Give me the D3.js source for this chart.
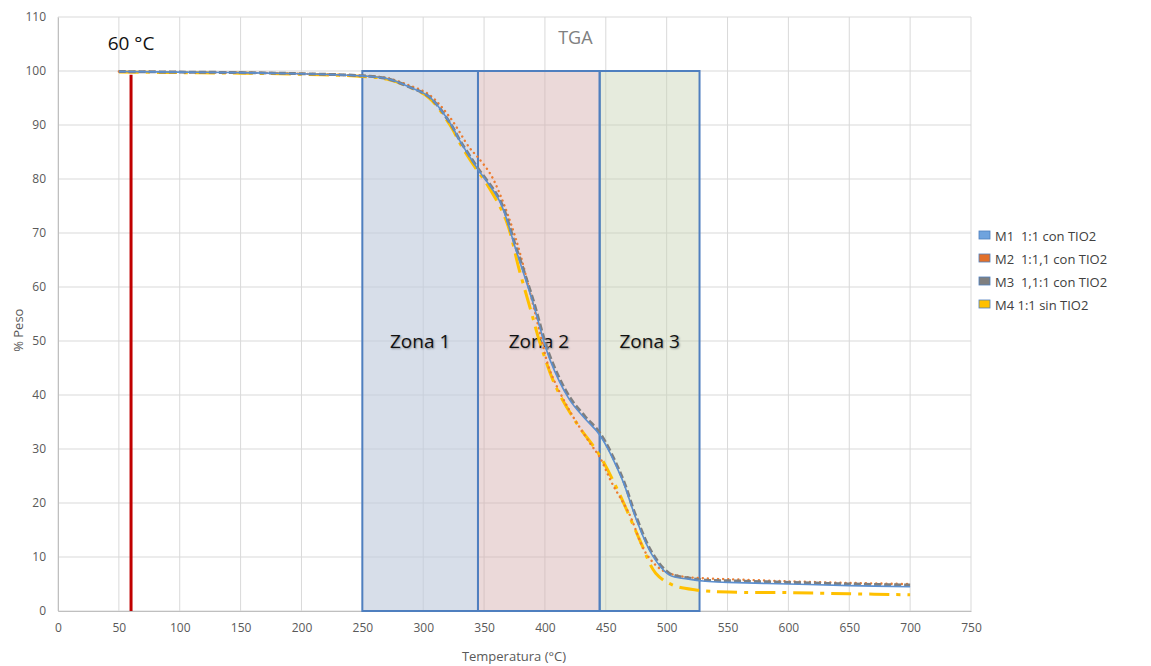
<!DOCTYPE html>
<html>
<head>
<meta charset="utf-8">
<script src="https://cdn.jsdelivr.net/npm/d3@7"></script>
<style>
  body { margin: 0; background: #fff; }
  svg text { font-family: "Open Sans", "Noto Sans", sans-serif; }
  .zona { text-shadow: 1px 1px 2px rgba(0,0,0,0.35); }
  .legend-text { white-space: pre; }
</style>
</head>
<body>
<svg id="chart" width="1151" height="666"></svg>
<script>
// ---- data ----
const xTicks = [0, 50, 100, 150, 200, 250, 300, 350, 400, 450, 500, 550, 600, 650, 700, 750];
const yTicks = [0, 10, 20, 30, 40, 50, 60, 70, 80, 90, 100, 110];

const tempM1 = [50, 100, 150, 200, 250, 270, 289, 305, 322, 330, 344, 363, 376, 390, 404, 420, 433, 445, 463, 475, 488, 502, 518, 532, 550, 600, 650, 700];
const pesoM1 = [99.9, 99.8, 99.7, 99.5, 99.1, 98.6, 97.0, 95.2, 90.4, 87.1, 82.1, 75.8, 67.0, 57.2, 46.6, 39.2, 35.6, 32.6, 24.6, 17.0, 10.4, 6.7, 5.9, 5.5, 5.3, 5.0, 4.7, 4.5];

const tempM2 = [50, 100, 150, 200, 250, 270, 289, 305, 322, 338, 345, 355, 363, 376, 390, 397, 404, 420, 437, 445, 455, 469, 483, 496, 510, 527, 550, 600, 650, 700];
const pesoM2 = [99.9, 99.8, 99.7, 99.5, 99.1, 98.7, 97.3, 95.6, 91.4, 85.8, 84.0, 81.0, 77.2, 69.0, 57.0, 50.5, 44.6, 37.2, 31.1, 28.5, 23.7, 18.1, 10.7, 7.6, 6.5, 6.1, 5.9, 5.5, 5.2, 5.0];

const tempM3 = [50, 100, 150, 200, 250, 270, 289, 305, 322, 330, 344, 363, 376, 390, 404, 420, 433, 445, 463, 475, 488, 502, 518, 532, 550, 600, 650, 700];
const pesoM3 = [99.9, 99.8, 99.7, 99.5, 99.1, 98.6, 97.0, 95.2, 90.4, 87.2, 82.3, 76.1, 67.5, 57.8, 47.2, 39.7, 36.0, 33.0, 25.0, 17.4, 10.8, 7.0, 6.1, 5.7, 5.6, 5.3, 5.0, 4.8];

const tempM4 = [50, 100, 150, 200, 250, 270, 289, 305, 322, 332, 345, 352, 368, 379, 389, 396, 409, 426, 445, 461, 478, 491, 505, 524, 551, 600, 650, 700];
const pesoM4 = [99.8, 99.7, 99.6, 99.4, 99.0, 98.5, 97.0, 95.0, 90.0, 85.9, 81.4, 79.2, 72.4, 63.1, 55.2, 49.6, 41.5, 34.8, 28.8, 21.8, 13.1, 7.0, 4.8, 3.9, 3.5, 3.4, 3.2, 3.0];

const seriesNames = ["M1  1:1 con TIO2", "M2  1:1,1 con TIO2", "M3  1,1:1 con TIO2", "M4 1:1 sin TIO2"];

const zoneNames = ["Zona 1", "Zona 2", "Zona 3"];
const zoneStart = [250, 345, 445];
const zoneEnd = [345, 445, 527];
const zoneTop = 100;

const markTemp = 60;
const markPeso = 99.3;

// ---- layout ----
const svg = d3.select('#chart');
const margin = { top: 17, left: 58, right: 180, bottom: 55 };
const width = +svg.attr('width');
const height = +svg.attr('height');
const innerWidth = width - margin.left - margin.right;
const innerHeight = height - margin.top - margin.bottom;

const xScale = d3.scaleLinear().domain([0, 750]).range([0, innerWidth]);
const yScale = d3.scaleLinear().domain([0, 110]).range([innerHeight, 0]);

const g = svg.append('g')
  .attr('transform', `translate(${margin.left}, ${margin.top})`);

// grid
g.append('g').selectAll('line').data(yTicks).enter().append('line')
  .attr('x1', 0).attr('x2', innerWidth)
  .attr('y1', d => yScale(d)).attr('y2', d => yScale(d))
  .attr('stroke', '#d9d9d9').attr('stroke-width', 1);
g.append('g').selectAll('line').data(xTicks).enter().append('line')
  .attr('x1', d => xScale(d)).attr('x2', d => xScale(d))
  .attr('y1', 0).attr('y2', innerHeight)
  .attr('stroke', '#d9d9d9').attr('stroke-width', 1);

// axes
const xAxis = d3.axisBottom(xScale).tickValues(xTicks).tickSize(0).tickPadding(12);
const xAxisG = g.append('g').attr('transform', `translate(0, ${innerHeight})`).call(xAxis);
const yAxis = d3.axisLeft(yScale).tickValues(yTicks).tickSize(0).tickPadding(12);
const yAxisG = g.append('g').call(yAxis);
[xAxisG, yAxisG].forEach(a => {
  a.select('.domain').attr('stroke', '#bfbfbf');
  a.selectAll('text').attr('fill', '#595959').attr('font-size', 12)
    .style('font-family', '"Open Sans", sans-serif');
});

// zones
const zoneFills = ['rgba(190,202,220,0.62)', 'rgba(214,175,175,0.48)', 'rgba(200,210,180,0.45)'];
const zones = g.append('g').selectAll('g').data(zoneNames).enter().append('g');
zones.append('rect')
  .attr('x', (d, i) => xScale(zoneStart[i]))
  .attr('y', yScale(zoneTop))
  .attr('width', (d, i) => xScale(zoneEnd[i]) - xScale(zoneStart[i]))
  .attr('height', yScale(0) - yScale(zoneTop))
  .attr('fill', (d, i) => zoneFills[i])
  .attr('stroke', '#4f7fbf').attr('stroke-width', 2);
zones.append('text')
  .attr('class', 'zona')
  .attr('x', (d, i) => (xScale(zoneStart[i]) + xScale(zoneEnd[i])) / 2)
  .attr('y', yScale(50) + 7)
  .attr('text-anchor', 'middle')
  .attr('font-size', 19)
  .attr('fill', '#111')
  .text(d => d);

// red marker at 60 °C
g.append('line')
  .attr('x1', xScale(markTemp)).attr('x2', xScale(markTemp))
  .attr('y1', yScale(0)).attr('y2', yScale(markPeso))
  .attr('stroke', '#c00000').attr('stroke-width', 3);
g.append('text')
  .attr('x', xScale(markTemp)).attr('y', yScale(105) + 6)
  .attr('text-anchor', 'middle').attr('font-size', 19).attr('fill', '#111')
  .text('60 °C');

// curves
const series = [
  { name: seriesNames[0], t: tempM1, p: pesoM1, color: '#5b8fd0', w: 1.6, dash: null, cap: 'butt' },
  { name: seriesNames[1], t: tempM2, p: pesoM2, color: '#ed7d31', w: 2.4, dash: '0.1,5', cap: 'round' },
  { name: seriesNames[2], t: tempM3, p: pesoM3, color: '#7f7f7f', w: 3, dash: '7,3', cap: 'butt' },
  { name: seriesNames[3], t: tempM4, p: pesoM4, color: '#ffc000', w: 3, dash: '20,7,4,7', cap: 'butt' }
];
const line = d3.line()
  .x(d => xScale(d[0]))
  .y(d => yScale(d[1]))
  .curve(d3.curveCatmullRom.alpha(0.5));

const drawOrder = [3, 1, 2, 0];
drawOrder.forEach(i => {
  const s = series[i];
  g.append('path')
    .datum(s.t.map((t, k) => [t, s.p[k]]))
    .attr('fill', 'none')
    .attr('stroke', s.color)
    .attr('stroke-width', s.w)
    .attr('stroke-linecap', s.cap)
    .attr('stroke-dasharray', s.dash)
    .attr('d', line);
});

// title
svg.append('text')
  .attr('x', margin.left + xScale(425)).attr('y', 44)
  .attr('text-anchor', 'middle').attr('font-size', 18).attr('fill', '#808080')
  .text('TGA');

// axis labels
svg.append('text')
  .attr('x', 514).attr('y', 661)
  .attr('text-anchor', 'middle').attr('font-size', 13).attr('fill', '#595959')
  .text('Temperatura (°C)');
svg.append('text')
  .attr('transform', `translate(23, ${margin.top + yScale(52)}) rotate(-90)`)
  .attr('text-anchor', 'middle').attr('font-size', 13).attr('fill', '#595959')
  .text('% Peso');

// legend
const legendFills = ['#6fa3de', '#e2702a', '#7f7f7f', '#ffc000'];
const legend = svg.append('g').attr('transform', 'translate(979, 236)');
const items = legend.selectAll('g').data(series).enter().append('g')
  .attr('transform', (d, i) => `translate(0, ${i * 23})`);
items.append('rect')
  .attr('x', 0).attr('y', -5).attr('width', 11).attr('height', 8)
  .attr('fill', (d, i) => legendFills[i])
  .attr('stroke', '#4f7fbf').attr('stroke-width', 0.8);
items.append('text')
  .attr('class', 'legend-text')
  .attr('x', 16).attr('y', 5)
  .attr('font-size', 13).attr('fill', '#404040')
  .text(d => d.name);
</script>
</body>
</html>
